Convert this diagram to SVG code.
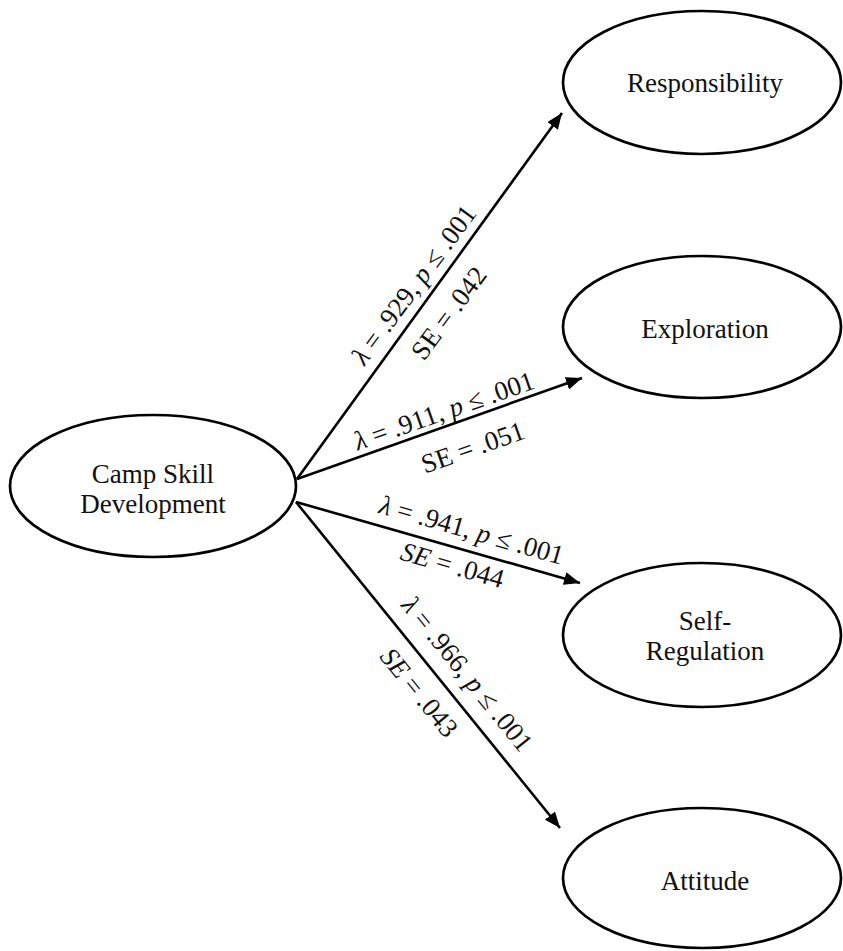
<svg xmlns="http://www.w3.org/2000/svg" width="843" height="951" viewBox="0 0 843 951">
  <style>
    .node ellipse { fill: #fff; stroke: #000; stroke-width: 2.7; }
    .node text { font-family: "Liberation Serif", "Times New Roman", serif; font-size: 27px; fill: #111; text-anchor: middle; }
    .edge { stroke: #000; stroke-width: 2.6; fill: none; marker-end: url(#arrow); }
    .lbl { font-family: "Liberation Serif", "Times New Roman", serif; font-size: 27px; fill: #111; text-anchor: middle; }
    .it { font-style: italic; }
  </style>
  <defs>
    <marker id="arrow" markerUnits="userSpaceOnUse" markerWidth="17" markerHeight="13" refX="16" refY="6.5" orient="auto">
      <path d="M0,0 L16,6.5 L0,13 z" fill="#000"/>
    </marker>
  </defs>
  <rect width="843" height="951" fill="#fff"/>

  <!-- connectors with loading labels -->
  <g id="connectors">
    <line class="edge" x1="297" y1="479" x2="562" y2="113"/>
    <line class="edge" x1="297" y1="479" x2="582" y2="378"/>
    <line class="edge" x1="296" y1="502" x2="580" y2="583"/>
    <line class="edge" x1="296" y1="502" x2="560" y2="828"/>

    <g transform="translate(429,296) rotate(-53.5)">
      <text class="lbl" x="0" y="-10"><tspan class="it">λ</tspan> = .929, <tspan class="it">p</tspan> ≤ .001</text>
      <text class="lbl" x="-2" y="35">SE = .042</text>
    </g>
    <g transform="translate(449,425) rotate(-19.3)">
      <text class="lbl" x="0" y="-6"><tspan class="it">λ</tspan> = .911, <tspan class="it">p</tspan> ≤ .001</text>
      <text class="lbl" x="15" y="38">SE = .051</text>
    </g>
    <g transform="translate(465,550) rotate(15.9)">
      <text class="lbl" x="1" y="-12"><tspan class="it">λ</tspan> = .941, <tspan class="it">p</tspan> ≤ .001</text>
      <text class="lbl" x="-8" y="27"><tspan class="it">SE</tspan> = .044</text>
    </g>
    <g transform="translate(444,685) rotate(50.9)">
      <text class="lbl" x="6" y="-16"><tspan class="it">λ</tspan> = .966, <tspan class="it">p</tspan> ≤ .001</text>
      <text class="lbl" x="-10" y="33"><tspan class="it">SE</tspan> = .043</text>
    </g>
  </g>

  <g id="camp-skill-development" class="node">
    <ellipse cx="153" cy="486" rx="143" ry="71"/>
    <text x="153" y="483">Camp Skill</text>
    <text x="153" y="513">Development</text>
  </g>
  <g id="responsibility" class="node">
    <ellipse cx="702" cy="82.5" rx="139" ry="71.5"/>
    <text x="705" y="92">Responsibility</text>
  </g>
  <g id="exploration" class="node">
    <ellipse cx="702" cy="327" rx="139" ry="71"/>
    <text x="705" y="338">Exploration</text>
  </g>
  <g id="self-regulation" class="node">
    <ellipse cx="702" cy="635" rx="139" ry="72"/>
    <text x="705" y="630">Self-</text>
    <text x="705" y="660">Regulation</text>
  </g>
  <g id="attitude" class="node">
    <ellipse cx="702" cy="878" rx="139" ry="70"/>
    <text x="705" y="890">Attitude</text>
  </g>
</svg>
